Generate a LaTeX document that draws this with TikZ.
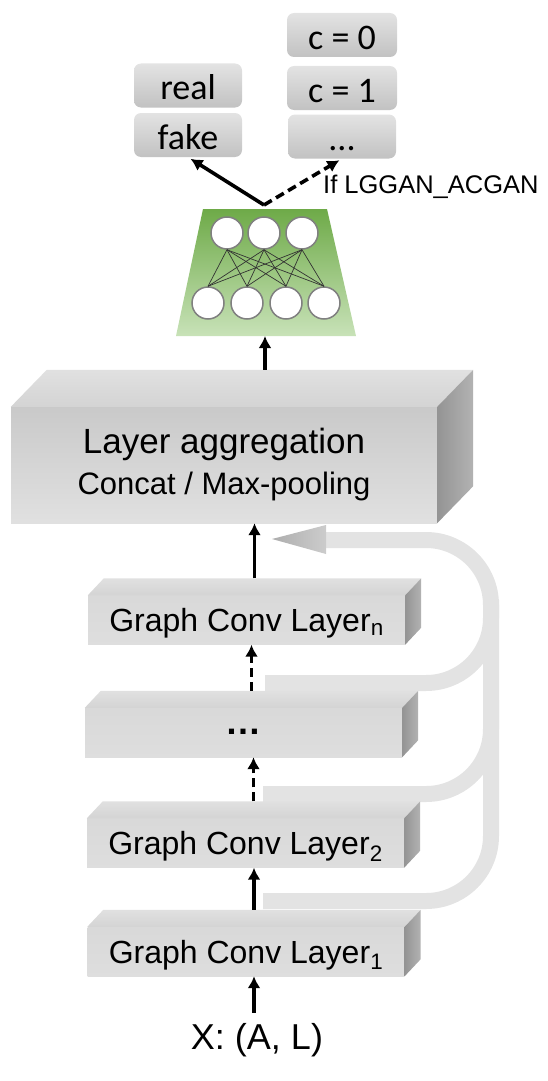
\documentclass[tikz,border=0pt]{standalone}
\usepackage{fontspec}
\setmainfont{Liberation Sans}
\newfontfamily\calfont{Carlito}
\usetikzlibrary{calc,arrows.meta}

\definecolor{nntop}{RGB}{110,170,72}
\definecolor{nnmid}{RGB}{160,205,135}
\definecolor{nnbot}{RGB}{200,226,184}

\tikzset{
  arr/.style={line width=3.6pt, -{Latex[length=12pt,width=13pt]}},
  dasharr/.style={arr, dash pattern=on 9pt off 5pt},
  skipband/.style={line width=16pt, draw=black!11, rounded corners=65pt},
  clsbox/.style={rounded corners=7pt, top color=black!11, bottom color=black!24,
    minimum width=108pt, minimum height=44pt, inner sep=0pt,
    text height=28pt, text depth=0pt, font=\calfont\fontsize{36}{40}\selectfont},
  layerbox/.style={top color=black!15, middle color=black!22, bottom color=black!13,
    minimum width=317pt, minimum height=49pt, inner sep=0pt,
    text height=23pt, text depth=0pt, font=\fontsize{32}{38}\selectfont},
  aggbox/.style={top color=black!21, bottom color=black!12,
    minimum width=426pt, minimum height=116pt, inner sep=0pt, align=center,
    font=\fontsize{35}{41}\selectfont},
  neuron/.style={circle, draw=black!50, line width=1.5pt, fill=white,
    minimum size=32pt, inner sep=0pt},
}

\begin{document}
\begin{tikzpicture}[x=1pt, y=-1pt]

  \useasboundingbox (0,0) rectangle (547,1081);

  \newcommand\layerfaces[3]{%
    \shade[top color=black!12, bottom color=black!17] (#1.north west) -- ++(#2,-#3)
      -- ($(#1.north east)+(#2,-#3)$) -- (#1.north east) -- cycle;
    \shade[left color=black!42, right color=black!30] (#1.north east) -- ++(#2,-#3)
      -- ($(#1.south east)+(#2,-#3)$) -- (#1.south east) -- cycle;
    \coordinate (#1-top) at ($(#1.north)+(#2/2,-#3)$);
  };

  %% skip connections
  \coordinate (sk1) at (263,901);
  \coordinate (sk2) at (263,794);
  \coordinate (sk3) at (265,683);
  \coordinate (skv) at (491,700);
  \coordinate (skw) at (491,600);
  \coordinate (skc) at (491,540);
  \coordinate (skend) at (326,540);
  \coordinate (sktip) at (272,539);

  \draw[skipband] (sk2) -| (skv);
  \draw[skipband] (sk3) -| (skw);
  \draw[skipband] (sk1) -| (skc) -- (skend);
  \shade[left color=black!32, right color=black!20]
    (sktip) -- ($(skend)+(0,-15)$) -- ($(skend)+(0,14)$) -- cycle;

  %% graph conv stack
  \node[layerbox] (L1) at (246,951.5) {Graph Conv Layer\textsubscript{1}};
  \layerfaces{L1}{16}{17}
  \node[layerbox] (L2) at (245.5,843) {Graph Conv Layer\textsubscript{2}};
  \layerfaces{L2}{16}{17}
  \node[layerbox, text height=4pt, font=\bfseries\fontsize{36}{40}\selectfont] (Ld) at (243.5,732.5) {…};
  \layerfaces{Ld}{16}{17}
  \node[layerbox] (Ln) at (246.5,620) {Graph Conv Layer\textsubscript{n}};
  \layerfaces{Ln}{16}{17}

  %% aggregation
  \node[aggbox] (agg) at (224,465) {Layer aggregation\\{\fontsize{31}{41}\selectfont Concat / Max-pooling}};
  \layerfaces{agg}{36}{37}

  \node[anchor=base, inner sep=0pt, text height=36pt, font=\fontsize{36}{40}\selectfont] (xal) at (257,1049) {X: (A, L)};

  \draw[arr] (xal.north -| L1-top) -- (L1.south -| L1-top);
  \draw[arr] (L1-top) -- (L2.south -| L1-top); %% L1->L2
  \draw[dasharr] (L2-top) -- (Ld.south -| L2-top); %% L2->...
  \draw[dasharr] (Ld-top) -- (Ln.south -| Ld-top); %% ...->Ln
  \draw[arr] (Ln-top) -- (Ln-top |- agg.south); %% Ln->agg

  %% classifier
  \coordinate (trap-t) at (265,209);
  \coordinate (trap-b) at (265,336);
  \shade[top color=nntop, middle color=nnmid, bottom color=nnbot]
    (203,209) -- (327,209) -- (356,336) -- (176,336) -- cycle;

  \node[neuron] (t1) at (227,233) {};
  \node[neuron] (t2) at (264,233) {};
  \node[neuron] (t3) at (302,233) {};
  \node[neuron] (b1) at (208,303) {};
  \node[neuron] (b2) at (247,303) {};
  \node[neuron] (b3) at (286,303) {};
  \node[neuron] (b4) at (324,303) {};
  \foreach \i in {1,2,3} {\foreach \j in {1,2,3,4} {\draw[black!80, line width=0.7pt] (t\i.south) -- (b\j.north);}}

  \draw[arr] (agg-top -| trap-b) -- (trap-b); %% agg->classifier

  %% outputs
  \node[clsbox] (real) at (188,85.5) {real};
  \node[clsbox] (fake) at (188,135) {fake};
  \node[clsbox, minimum width=110pt] (c0) at (342,35) {c = 0};
  \node[clsbox, minimum width=110pt] (c1) at (342,88) {c = 1};
  \node[clsbox] (cdots) at (342,136.5) {...};

  \coordinate (apex) at (264,205);
  \draw[arr, shorten >=3pt] (apex) -- (fake.south);
  \draw[dasharr, shorten >=3pt] (apex) -- (cdots.south);
  \node[anchor=base west, inner sep=0pt, font=\fontsize{25.5}{30}\selectfont] (cond) at (323,193) {If LGGAN\_ACGAN};

\end{tikzpicture}
\end{document}
